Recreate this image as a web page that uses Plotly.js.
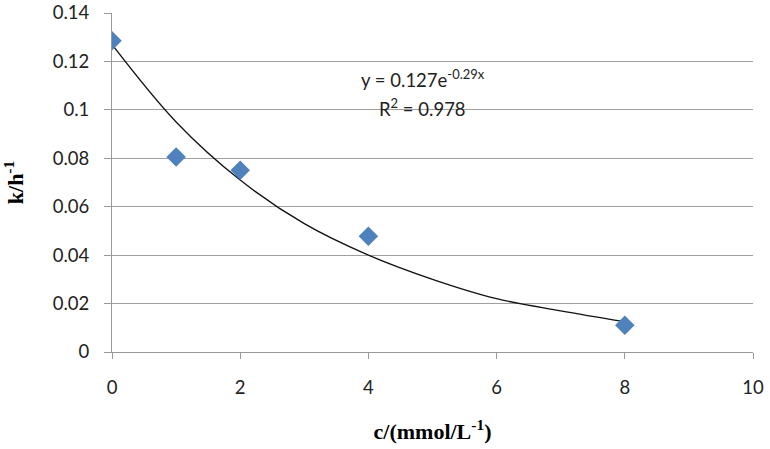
<!DOCTYPE html>
<html>
<head>
<meta charset="utf-8">
<script src="https://cdn.plot.ly/plotly-3.0.1.min.js"></script>
<style>html,body{margin:0;padding:0;background:#fff;}#chart{width:770px;height:449px;}</style>
</head>
<body>
<div id="chart"></div>
<script>
// measured data points
const concentration = [0, 1, 2, 4, 8];
const rateK = [0.1285, 0.0805, 0.0751, 0.0478, 0.011];
// trend curve, values
const trendX = [0, 1, 2, 3, 4, 5, 6, 7, 8];
const trendY = [0.127, 0.095, 0.071, 0.053, 0.040, 0.030, 0.022, 0.017, 0.0125];
const xTicks = [0, 2, 4, 6, 8, 10];
const yTicks = [0, 0.02, 0.04, 0.06, 0.08, 0.1, 0.12, 0.14];
const yTickText = ['0', '0.02', '0.04', '0.06', '0.08', '0.1', '0.12', '0.14'];

const tickFont = {family: 'Lato, "Open Sans", sans-serif', size: 18.5, color: '#222'};
const titleFont = {family: '"Liberation Serif", "Times New Roman", serif', size: 22, color: '#000'};

const data = [
  {x: trendX, y: trendY, type: 'scatter', mode: 'lines',
   line: {color: '#111', width: 1.3, shape: 'spline'}, hoverinfo: 'skip', showlegend: false},
  {x: concentration, y: rateK, type: 'scatter', mode: 'markers',
   marker: {symbol: 'diamond', size: 15, color: '#4F81BD', line: {width: 0}}, showlegend: false}
];

const layout = {
  width: 770, height: 449,
  margin: {l: 112, r: 17, t: 13, b: 97},
  paper_bgcolor: '#fff', plot_bgcolor: '#fff',
  xaxis: {
    range: [0, 10], tickvals: xTicks, ticktext: xTicks.map(String),
    showgrid: false, zeroline: false, showline: true, linecolor: '#999', linewidth: 1,
    ticks: 'outside', ticklen: 6, tickcolor: '#999', tickfont: tickFont, ticklabelstandoff: 13,
    title: {text: '<b>c/(mmol/L<sup>-1</sup>)</b>', font: titleFont, standoff: 26}
  },
  yaxis: {
    range: [0, 0.14], tickvals: yTicks, ticktext: yTickText,
    showgrid: true, gridcolor: '#a0a0a0', gridwidth: 1, zeroline: false,
    showline: true, linecolor: '#999', linewidth: 1,
    ticks: 'outside', ticklen: 7, tickcolor: '#999', tickfont: tickFont, ticklabelstandoff: 11,
    title: {text: '<b>k/h<sup>-1</sup></b>', font: titleFont, standoff: 28}
  },
  annotations: [
    {xref: 'x', yref: 'y', x: 4.85, y: 0.1131, showarrow: false,
     text: 'y = 0.127e<sup>-0.29x</sup>', font: {family: 'Lato, "Open Sans", sans-serif', size: 18.5, color: '#222'}},
    {xref: 'x', yref: 'y', x: 4.85, y: 0.1011, showarrow: false,
     text: 'R<sup>2</sup> = 0.978', font: {family: 'Lato, "Open Sans", sans-serif', size: 18.5, color: '#222'}}
  ]
};

Plotly.newPlot('chart', data, layout, {displayModeBar: false, staticPlot: true});
</script>
</body>
</html>
